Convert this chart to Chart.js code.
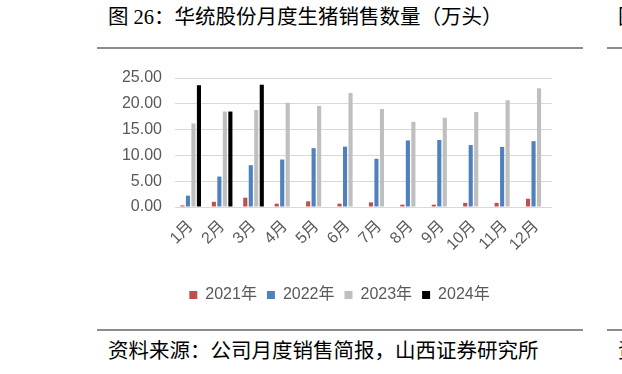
<!DOCTYPE html>
<html>
<head>
<meta charset="utf-8">
<script src="https://cdn.jsdelivr.net/npm/chart.js@4/dist/chart.umd.min.js"></script>
<style>
  html, body { margin: 0; padding: 0; background: #fff; }
  body { width: 622px; height: 374px; position: relative; overflow: hidden; }
  .title, .source {
    position: absolute; white-space: nowrap; color: #000;
    font-family: "Liberation Serif", "Noto Sans CJK SC", sans-serif;
    font-size: 20.5px; line-height: 20px;
  }
  .rule { position: absolute; height: 2px; background: #8c8c8c; }
  #wrap { position: absolute; left: 97px; top: 55px; width: 486px; height: 265px; }
</style>
</head>
<body>
<div class="title" style="left:108px; top:7px;">图 26：华统股份月度生猪销售数量（万头）</div>
<div class="title" style="left:618px; top:7px;">图</div>
<div class="rule" style="left:97px; top:47px; width:486px;"></div>
<div class="rule" style="left:607px; top:47px; width:20px;"></div>

<div id="wrap"><canvas id="chart"></canvas></div>

<div class="rule" style="left:97px; top:329px; width:486px;"></div>
<div class="rule" style="left:607px; top:329px; width:20px;"></div>
<div class="source" style="left:108px; top:341px;">资料来源：公司月度销售简报，山西证券研究所</div>
<div class="source" style="left:618px; top:341px;">资</div>

<script>
// months on the x axis
const months = ['1月', '2月', '3月', '4月', '5月', '6月', '7月', '8月', '9月', '10月', '11月', '12月'];

// monthly hog sales, 10k head
const sales2021 = [0.3, 1.0, 1.8, 0.65, 1.1, 0.65, 0.9, 0.45, 0.45, 0.8, 0.8, 1.6];
const sales2022 = [2.2, 5.9, 8.1, 9.2, 11.4, 11.7, 9.35, 12.9, 13.0, 12.0, 11.65, 12.75];
const sales2023 = [16.2, 18.5, 18.8, 20.2, 19.6, 22.1, 19.0, 16.5, 17.3, 18.4, 20.7, 23.0];
const sales2024 = [23.6, 18.5, 23.7, null, null, null, null, null, null, null, null, null];

const yTicks = [0, 5, 10, 15, 20, 25];

const tickColor = '#595959';
const baseFont = { family: '"Liberation Sans", "Noto Sans CJK SC", sans-serif', size: 16 };

// nudge the legend a bit right, like the original sits
const legendShift = {
  id: 'legendShift',
  afterLayout(chart) {
    chart.legend.left += 15;
    chart.legend.right += 15;
  },
};

const ctx = document.getElementById('chart').getContext('2d');
const chart = new Chart(ctx, {
  type: 'bar',
  data: {
    labels: months,
    datasets: [
      { label: '2021年', data: sales2021, backgroundColor: '#c0504d' },
      { label: '2022年', data: sales2022, backgroundColor: '#4f81bd' },
      { label: '2023年', data: sales2023, backgroundColor: '#bfbfbf' },
      { label: '2024年', data: sales2024, backgroundColor: '#000000' },
    ],
  },
  options: {
    responsive: true,
    maintainAspectRatio: false,
    animation: false,
    datasets: { bar: { categoryPercentage: 0.7, barPercentage: 0.75 } },
    layout: { padding: { top: 23, right: 31, left: 0, bottom: 7 } },
    plugins: {
      tooltip: { enabled: false },
      legend: {
        position: 'bottom',
        labels: {
          color: tickColor, font: baseFont,
          boxWidth: 8, boxHeight: 8, padding: 10,
        },
      },
    },
    scales: {
      x: {
        grid: { display: false },
        border: { display: false },
        ticks: { color: tickColor, font: baseFont, minRotation: 45, maxRotation: 45, padding: 2 },
        afterFit: (scale) => { scale.height = 70; },
      },
      y: {
        min: 0, max: 25,
        afterBuildTicks: (scale) => { scale.ticks = yTicks.map(v => ({ value: v })); },
        grid: { color: '#d9d9d9', lineWidth: 1, drawTicks: false },
        border: { display: false },
        ticks: { color: tickColor, font: baseFont, padding: 13, callback: v => v.toFixed(2) },
        afterFit: (scale) => { scale.width = 78; },
      },
    },
  },
  plugins: [legendShift],
});
</script>
</body>
</html>
